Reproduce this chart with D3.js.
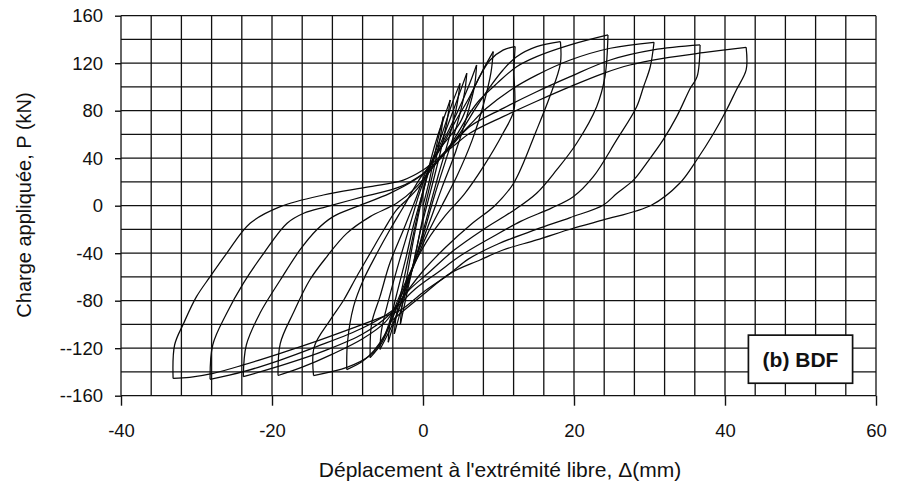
<!DOCTYPE html>
<html>
<head>
<meta charset="utf-8">
<script src="https://cdn.jsdelivr.net/npm/d3@7"></script>
<style>
  body { margin: 0; background: #fff; }
  svg { display: block; }
  text { font-family: "Liberation Sans", Arial, sans-serif; fill: #111; }
</style>
</head>
<body>
<svg id="plot" width="901" height="484"></svg>
<script>
// axis ticks and labels
const xTicks = [-40, -20, 0, 20, 40, 60];
const yTicks = [-160, -120, -80, -40, 0, 40, 80, 120, 160];
const yTickLabels = ["--160", "--120", "-80", "-40", "0", "40", "80", "120", "160"];
const xGrid = d3.range(-40, 61, 4);
const yGrid = d3.range(-160, 161, 20);

// hysteresis branches, [displacement (mm), load (kN)]
// initial loading
const load0 = [[0, 0], [0.8, 20], [1.6, 45], [2.2, 62], [2.7, 75]];
// descending branches: positive peak -> negative peak
const down1 = [[2.7, 75], [2.3, 58], [1.4, 30], [0.3, 0], [-0.8, -35], [-2, -70], [-3, -100]];
const down2 = [[3.6, 89], [3.2, 72], [2.3, 45], [1.0, 12], [-0.3, -20], [-1.5, -55], [-2.8, -85], [-3.8, -108]];
const down3 = [[4.9, 103], [4.5, 85], [3.5, 58], [2, 25], [0.5, -10], [-1, -45], [-2.8, -80], [-4, -102], [-4.6, -115]];
const down4 = [[5.8, 111.5], [5.5, 95], [4.5, 68], [3, 38], [1.5, 8], [0, -25], [-1.8, -60], [-3.5, -92], [-4.8, -110], [-5.7, -121]];
const down5 = [[7.1, 118.5], [6.8, 100], [5.8, 75], [4.3, 45], [2.5, 15], [0.8, -15], [-1, -45], [-3, -78], [-4.5, -102], [-5.5, -116], [-7, -128]];
const down6 = [[9.3, 129.8], [9.0, 112], [8, 85], [6.5, 55], [4.5, 25], [2.5, 0], [0.5, -25], [-1.5, -55], [-3.5, -85], [-5, -108], [-6.5, -122], [-8, -131], [-10.1, -138]];
const down7 = [[12.2, 134], [12.05, 113], [12.05, 80.6], [10.6, 61], [8.0, 32.9], [5.5, 10], [3, -8], [0.5, -30], [-2, -60], [-4, -90], [-5.3, -112], [-7, -126], [-10, -136], [-14.5, -143]];
const down8 = [[18.2, 138.2], [18.2, 119.9], [16.8, 91.9], [15.05, 63.8], [12, 18.9], [9.5, 0], [6.5, -15], [3, -35], [0, -55], [-3, -80], [-5, -98], [-8, -112], [-12, -125], [-16, -136], [-19.2, -143]];
const down9 = [[24.5, 143.8], [24.1, 108.7], [23.0, 83.4], [20.35, 52.6], [17.7, 30.1], [15.05, 10.5], [12, -4], [8, -20], [4, -38], [1, -55], [-2, -72], [-4.5, -92], [-8, -108], [-13, -122], [-18, -133], [-23.8, -144]];
const down10 = [[30.6, 137.6], [30.1, 117], [29.2, 100], [28.3, 83.4], [25.65, 55.4], [22.56, 24.5], [19.9, 7.6], [17, -2], [13, -13], [9, -27], [5, -42], [2, -56], [-1, -70], [-4, -88], [-8, -103], [-14.1, -118.7], [-18.9, -130], [-23.8, -139.8], [-28.2, -146.2]];
const down11 = [[36.7, 135.4], [36.3, 108.7], [35.4, 98.9], [33.6, 75], [31.8, 55.4], [29.6, 35.7], [27.9, 21.7], [25.7, 10.5], [23.9, 0.6], [19.5, -10], [15, -20], [10, -32], [6, -45], [3.6, -57], [0, -73], [-3, -88], [-5.25, -93.4], [-8.8, -101.9], [-13.6, -113], [-18.9, -124.3], [-23.8, -134.1], [-27.8, -141.2], [-30.9, -144.5], [-33.1, -145.4]];
const down12 = [[42.8, 133.4], [42.8, 114.3], [41.5, 97.5], [40.2, 80.6], [38.5, 61], [36.25, 38.5], [34.0, 18.9], [30.3, 0.6], [23.9, -12], [19.9, -19], [15.05, -28.8], [10.6, -37.3], [7.55, -45.7], [3.6, -57], [0, -75], [-4, -96]];
// ascending branches: negative peak -> next positive peak
const up1 = [[-3, -100], [-2.8, -85], [-2, -55], [-1, -20], [0, 10], [1, 38], [2, 60], [3, 78], [3.6, 89]];
const up2 = [[-3.8, -108], [-3.6, -95], [-2.8, -70], [-1.8, -40], [-0.8, -10], [0.3, 20], [1.2, 38], [2.5, 60], [3.8, 85], [4.9, 103]];
const up3 = [[-4.6, -115], [-4.4, -100], [-3.5, -75], [-2.3, -45], [-1.2, -15], [0, 12], [1, 33], [2.5, 55], [4, 80], [5.8, 111.5]];
const up4 = [[-5.7, -121], [-5.5, -105], [-4.5, -78], [-3.2, -48], [-1.8, -18], [-0.5, 10], [0.8, 32], [2.5, 52], [4.5, 78], [6, 100], [7.1, 118.5]];
const up5 = [[-7, -128], [-6.8, -99], [-5.7, -76.6], [-4.4, -48.5], [-2.6, -20.5], [-1, 5], [0.5, 30], [2.5, 50], [4.9, 70], [6.7, 98], [8, 115], [9.3, 129.8]];
const up6 = [[-10.1, -138], [-10.0, -115], [-9.2, -85], [-7.9, -62.6], [-6.1, -40.1], [-4.4, -20.5], [-2.5, 0], [-0.5, 22], [1, 35], [2.5, 50], [4.2, 70], [6.2, 92], [7.5, 108.7], [8.9, 122.7], [10.6, 131], [12.2, 134]];
const up7 = [[-14.5, -143], [-14.4, -118.7], [-12.3, -96.3], [-10.5, -79.4], [-8.8, -59.8], [-7, -40.1], [-5.2, -20.5], [-3.5, -3.6], [-1.7, 7.6], [0, 20], [1, 30], [3, 45], [5, 62], [7.1, 83.4], [8.9, 100.3], [10.6, 114.3], [12.4, 125.5], [15.05, 134], [18.2, 138.2]];
const up8 = [[-19.2, -143], [-18.9, -115.9], [-17.2, -90.6], [-15, -62.6], [-12.75, -43], [-10.1, -23.3], [-7, -9.2], [-3.5, 2], [-1, 15], [1, 30], [3.5, 50], [4.5, 60], [6.2, 78], [7.5, 89], [9.8, 103], [12.4, 117], [15.05, 125.5], [19.5, 135.4], [24.5, 143.8]];
const up9 = [[-23.8, -144], [-23.4, -117.3], [-21.6, -90.6], [-18.9, -62.6], [-16.3, -37.3], [-14.1, -20.5], [-11.9, -9.2], [-8.8, -0.8], [-4.4, 10.4], [-1, 22], [1, 32], [3.5, 50], [6.2, 68], [8.4, 82], [11.96, 98.9], [15.05, 110], [19.5, 122.7], [24.8, 132.6], [30.6, 137.6]];
const up10 = [[-28.2, -146.2], [-27.85, -117.3], [-26, -90.6], [-23.8, -65.4], [-21.1, -40.1], [-18, -14.8], [-15.8, -6.4], [-12.75, -0.8], [-7.9, 7.6], [-3, 16], [0, 27], [2, 38], [4, 52], [6.2, 66.6], [10.6, 82], [15.05, 96], [19.5, 108.7], [24.8, 122.7], [30.5, 131.2], [36.7, 135.4]];
const up11 = [[-33.1, -145.4], [-32.9, -117.3], [-31.7, -99], [-30, -76.6], [-28.2, -59.8], [-26, -40.1], [-22.9, -14.8], [-18.9, -0.8], [-13.2, 9], [-7, 16], [-2.6, 21.6], [0, 30], [2, 40], [4, 50], [6.2, 61], [10.6, 75], [15.05, 88], [19.5, 100.3], [23.9, 111.5], [27.4, 118.5], [31.8, 124.1], [37.1, 128.9], [42.8, 133.4]];
const branches = [load0,
  down1, up1, down2, up2, down3, up3, down4, up4, down5, up5, down6, up6,
  down7, up7, down8, up8, down9, up9, down10, up10, down11, up11, down12];

const svg = d3.select("#plot");
const margin = { left: 121, right: 876, top: 15.7, bottom: 395.7 };

const x = d3.scaleLinear().domain([-40, 60]).range([margin.left, margin.right]);
const y = d3.scaleLinear().domain([-160, 160]).range([margin.bottom, margin.top]);

// grid
const grid = svg.append("g").attr("stroke", "#111").attr("stroke-width", 1.3);
grid.selectAll("line.v").data(xGrid).enter().append("line")
  .attr("x1", d => x(d)).attr("x2", d => x(d))
  .attr("y1", y(-160)).attr("y2", y(160));
grid.selectAll("line.h").data(yGrid).enter().append("line")
  .attr("x1", x(-40)).attr("x2", x(60))
  .attr("y1", d => y(d)).attr("y2", d => y(d));

// axes: ticks only at labelled values
const xAxis = svg.append("g")
  .attr("transform", `translate(0,${y(-160)})`)
  .call(d3.axisBottom(x).tickValues(xTicks).tickSize(10).tickPadding(18).tickFormat(d => String(d)));
const yAxis = svg.append("g")
  .attr("transform", `translate(${x(-40)},0)`)
  .call(d3.axisLeft(y).tickValues(yTicks).tickSize(6).tickPadding(12).tickFormat((d, i) => yTickLabels[i]));
[xAxis, yAxis].forEach(ax => {
  ax.select(".domain").remove();
  ax.selectAll(".tick line").attr("stroke", "#111").attr("stroke-width", 1.4);
  ax.selectAll(".tick text").attr("font-size", 18.5).attr("fill", "#111")
    .attr("font-family", "'Liberation Sans', Arial, sans-serif");
});
xAxis.selectAll(".tick text").attr("dy", "0.71em");

// curves
const line = d3.line()
  .x(d => x(d[0]))
  .y(d => y(d[1]))
  .curve(d3.curveCatmullRom.alpha(0.5));
svg.append("g").selectAll("path").data(branches).enter().append("path")
  .attr("d", line)
  .attr("fill", "none")
  .attr("stroke", "#0a0a0a")
  .attr("stroke-width", 1.25)
  .attr("stroke-linejoin", "round");

// label box
const box = svg.append("g");
box.append("rect")
  .attr("x", x(43.1)).attr("y", y(-109))
  .attr("width", x(56.9) - x(43.1)).attr("height", y(-149.5) - y(-109))
  .attr("fill", "#fff").attr("stroke", "#111").attr("stroke-width", 1.7);
box.append("text")
  .attr("x", (x(43.1) + x(56.9)) / 2).attr("y", (y(-109) + y(-149.5)) / 2)
  .attr("dy", "0.36em").attr("text-anchor", "middle")
  .attr("font-size", 21).attr("font-weight", "bold")
  .text("(b) BDF");

// axis titles
svg.append("text")
  .attr("x", 500).attr("y", 477)
  .attr("text-anchor", "middle").attr("font-size", 21)
  .text("Déplacement à l'extrémité libre, \u0394(mm)");
svg.append("text")
  .attr("transform", "translate(31,205) rotate(-90)")
  .attr("text-anchor", "middle").attr("font-size", 20)
  .text("Charge appliquée, P (kN)");
</script>
</body>
</html>
